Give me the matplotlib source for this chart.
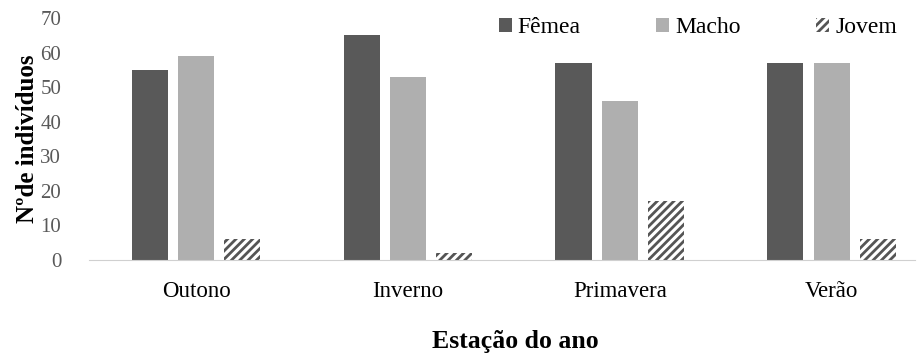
import matplotlib
matplotlib.use('Agg')
import matplotlib.pyplot as plt
import numpy as np

plt.rcParams['font.family'] = ['Liberation Serif', 'DejaVu Serif']
plt.rcParams['hatch.linewidth'] = 2.0

estacoes = ['Outono', 'Inverno', 'Primavera', 'Verão']
femea = [55, 65, 57, 57]
macho = [59, 53, 46, 57]
jovem = [6, 2, 17, 6]

grey_txt = '#595959'

fig = plt.figure(figsize=(9.24, 3.54), dpi=100)
ax = fig.add_axes([0.0963, 0.2655, 0.8937, 0.6836])

x = np.arange(len(estacoes))
w = 0.17
step = 0.219
ax.bar(x - step, femea, w, color='#595959', label='Fêmea')
ax.bar(x, macho, w, color='#afafaf', label='Macho')
ax.bar(x + step, jovem, w, color='white', edgecolor='#555555', hatch='////',
       linewidth=0, label='Jovem')

ax.set_xlim(-0.505, 3.391)
ax.set_ylim(0, 70)
ax.set_yticks(range(0, 71, 10))
ax.set_xticks(x)
ax.set_xticklabels(estacoes)
ax.tick_params(axis='y', length=0, labelcolor=grey_txt, labelsize=15, pad=20)
ax.tick_params(axis='x', length=0, labelcolor='black', labelsize=16.5, pad=15)
for s in ['top', 'right', 'left']:
    ax.spines[s].set_visible(False)
ax.spines['bottom'].set_color('#d0d0d0')

ax.set_ylabel('Nºde indivíduos', fontsize=18, fontweight='bold', labelpad=1)
ax.set_xlabel('Estação do ano', fontsize=18.5, fontweight='bold', labelpad=20)
ax.xaxis.label.set_x(0.516)

ax.legend(loc='upper right', bbox_to_anchor=(1.004, 1.09), ncol=3, frameon=False,
          fontsize=17, handlelength=0.55, handleheight=0.55, handletextpad=0.25,
          columnspacing=3.2)

fig.savefig('out.png', dpi=100)
